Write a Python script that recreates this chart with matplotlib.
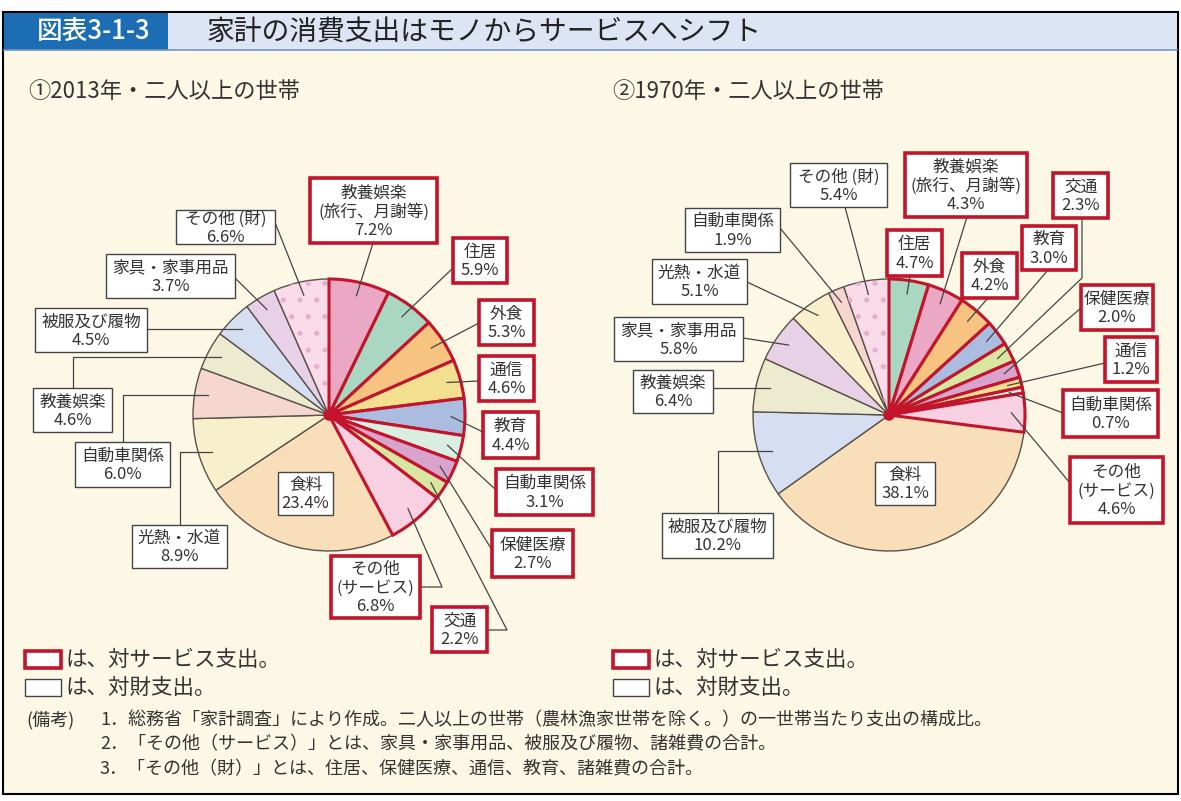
import numpy as np
import matplotlib.pyplot as plt
from matplotlib.patches import Rectangle, Circle, Wedge

plt.rcParams['font.family'] = ['Noto Sans CJK JP', 'DejaVu Sans']
plt.rcParams['hatch.linewidth'] = 1.3

# ---- data -------------------------------------------------------------
cats_2013 = ['教養娯楽\n(旅行、月謝等)', '住居', '外食', '通信', '教育', '自動車関係',
             '保健医療', '交通', 'その他\n(サービス)',
             '食料', '光熱・水道', '自動車関係', '教養娯楽', '被服及び履物',
             '家具・家事用品', 'その他 (財)']
vals_2013 = [7.2, 5.9, 5.3, 4.6, 4.4, 3.1, 2.7, 2.2, 6.8,
             23.4, 8.9, 6.0, 4.6, 4.5, 3.7, 6.6]
serv_2013 = [True] * 9 + [False] * 7

cats_1970 = ['住居', '教養娯楽\n(旅行、月謝等)', '外食', '教育', '交通', '保健医療',
             '通信', '自動車関係', 'その他\n(サービス)',
             '食料', '被服及び履物', '教養娯楽', '家具・家事用品', '光熱・水道',
             '自動車関係', 'その他 (財)']
vals_1970 = [4.7, 4.3, 4.2, 3.0, 2.3, 2.0, 1.2, 0.7, 4.6,
             38.1, 10.2, 6.4, 5.8, 5.1, 1.9, 5.4]
serv_1970 = [True] * 9 + [False] * 7

title_no = '図表3-1-3'
title = '家計の消費支出はモノからサービスへシフト'
sub_2013 = '①2013年・二人以上の世帯'
sub_1970 = '②1970年・二人以上の世帯'
leg_serv = 'は、対サービス支出。'
leg_good = 'は、対財支出。'
notes = ['1．総務省「家計調査」により作成。二人以上の世帯（農林漁家世帯を除く。）の一世帯当たり支出の構成比。',
         '2．「その他（サービス）」とは、家具・家事用品、被服及び履物、諸雑費の合計。',
         '3．「その他（財）」とは、住居、保健医療、通信、教育、諸雑費の合計。']

# ---- style ------------------------------------------------------------
RED = '#c2142b'
GREY = '#5a524a'
TXT = '#333333'
c_pink = '#eaa8c5'; c_green = '#a9d7c1'; c_orange = '#f6c480'; c_yellow = '#f2df90'
c_blue = '#aabde0'; c_mint = '#d9ede0'; c_mauve = '#d8a4cd'; c_lime = '#d7e7a2'
c_lpink = '#f7d1e1'; c_peach = '#f8deb9'; c_pyel = '#f8f0cd'; c_salmon = '#f6d7d0'
c_beige = '#ecebd0'; c_lblue = '#d6dff1'; c_lilac = '#e8d0e6'; c_dot = '#fadbe9'

cols_2013 = [c_pink, c_green, c_orange, c_yellow, c_blue, c_mint, c_mauve, c_lime, c_lpink,
             c_peach, c_pyel, c_salmon, c_beige, c_lblue, c_lilac, c_dot]
cols_1970 = [c_green, c_pink, c_orange, c_blue, c_lime, c_mauve, c_yellow, c_mint, c_lpink,
             c_peach, c_lblue, c_beige, c_lilac, c_pyel, c_salmon, c_dot]

# label boxes (x0, y0, x1, y1) in pixels from top-left, and leader path after the anchor
# (None = keep previous coordinate)
lay_2013 = [((310, 178, 437, 243), [(373, 243)]),
            ((453, 238, 507, 283), [(453, 268)]),
            ((479, 300, 534, 345), [(479, 323)]),
            ((479, 356, 534, 401), [(479, 381)]),
            ((483, 412, 538, 458), [(483, 432)]),
            ((496, 469, 593, 515), [(496, 490)]),
            ((492, 530, 573, 577), [(492, 550)]),
            ((432, 607, 487, 652), [(507, 630), (487, 630)]),
            ((331, 556, 420, 618), [(442, 587), (420, 587)]),
            ((278, 472, 333, 515), None),
            ((132, 525, 227, 568), [(180, None), (180, 525)]),
            ((75, 442, 170, 487), [(123, None), (123, 442)]),
            ((33, 388, 112, 432), [(73, None), (73, 388)]),
            ((35, 308, 147, 352), [(147, None)]),
            ((106, 254, 235, 298), [(235, 278)]),
            ((176, 210, 275, 244), [(276, 225)])]
lay_1970 = [((887, 230, 942, 276), [(910, 276)]),
            ((905, 153, 1027, 217), [(967, 217)]),
            ((962, 253, 1017, 298), [(988, 298)]),
            ((1022, 226, 1076, 270), [(1048, 270)]),
            ((1053, 173, 1108, 218), [(1082, 278), (1082, 218)]),
            ((1081, 285, 1153, 330), [(1081, 308)]),
            ((1105, 337, 1157, 382), [(1105, 363)]),
            ((1063, 390, 1158, 437), [(1063, 413)]),
            ((1070, 457, 1163, 523), [(1070, 483)]),
            ((875, 462, 935, 505), None),
            ((662, 513, 773, 558), [(718, None), (718, 513)]),
            ((633, 370, 713, 413), [(713, None)]),
            ((614, 317, 743, 361), [(743, 338)]),
            ((652, 259, 747, 304), [(747, 282)]),
            ((685, 208, 780, 252), [(780, 228)]),
            ((790, 163, 887, 207), [(845, 207)])]

W, H = 1181, 801
fig = plt.figure(figsize=(W / 100, H / 100), dpi=100)
fig.patch.set_facecolor('white')
ax = fig.add_axes([0, 0, 1, 1])


def draw_pie(vals, cats, serv, cols, lay, center, r):
    wedges, _ = ax.pie(vals, colors=cols, startangle=-90, counterclock=True,
                       center=center, radius=r, wedgeprops=dict(linewidth=1.0, edgecolor=GREY))
    for w, s in zip(wedges, serv):
        if s:
            w.set_edgecolor(RED)
            w.set_linewidth(2.2)
            w.set_zorder(2)
        else:
            w.set_zorder(1)
    # dotted pattern on その他（財）
    last = wedges[-1]
    ax.add_patch(Wedge(last.center, last.r, last.theta1, last.theta2, facecolor='none',
                       edgecolor='#e6b0cb', hatch='.', linewidth=0, zorder=1.5))
    ax.add_patch(Circle(center, 5, color=RED, zorder=6))

    for w, cat, v, s, (box, path) in zip(wedges, cats, vals, serv, lay):
        x0, y0, x1, y1 = box
        ec = RED if s else '#444444'
        ax.add_patch(Rectangle((x0, y0), x1 - x0, y1 - y0, facecolor='white', edgecolor=ec,
                               linewidth=2.6 if s else 1.0, zorder=4))
        ax.text((x0 + x1) / 2, (y0 + y1) / 2 + 1, f'{cat}\n{v}%', ha='center', va='center',
                multialignment='center', fontsize=12, color=TXT, linespacing=1.1, zorder=5)
        if path is None:
            continue
        th = np.deg2rad((w.theta1 + w.theta2) / 2)
        pts = [(center[0] + 0.9 * r * np.cos(th), center[1] + 0.9 * r * np.sin(th))]
        for px, py in path:
            pts.append((pts[-1][0] if px is None else px, pts[-1][1] if py is None else py))
        xs, ys = zip(*pts)
        ax.plot(xs, ys, color='#444444', lw=0.9, zorder=3)


# background, frame, title bar
ax.add_patch(Rectangle((3, 12), 1175, 782, facecolor='#fdf8e5', edgecolor='black', lw=1.5, zorder=0))
ax.add_patch(Rectangle((168, 13), 1009, 37, facecolor='#dde4f3', edgecolor='none', zorder=0.5))
ax.add_patch(Rectangle((4, 13), 164, 37, facecolor='#1d6db4', edgecolor='none', zorder=0.5))
ax.plot([4, 1177], [50, 50], color='#6d95c8', lw=1.2, zorder=0.6)
ax.text(94, 32, title_no, color='white', fontsize=18.5, fontweight='medium', ha='center', va='center')
ax.text(207, 32, title, color='#222222', fontsize=20, ha='left', va='center')

ax.text(28, 92, sub_2013, fontsize=16, color=TXT, ha='left', va='center')
ax.text(612, 92, sub_1970, fontsize=16, color=TXT, ha='left', va='center')

draw_pie(vals_2013, cats_2013, serv_2013, cols_2013, lay_2013, (329, 415), 136)
draw_pie(vals_1970, cats_1970, serv_1970, cols_1970, lay_1970, (889, 415), 136)

# legends
for lx in (25, 613):
    ax.add_patch(Rectangle((lx, 651), 36, 17, facecolor='white', edgecolor=RED, lw=2.6, zorder=4))
    ax.add_patch(Rectangle((lx, 679), 36, 17, facecolor='white', edgecolor='#444444', lw=1.0, zorder=4))
    ax.text(lx + 41, 660, leg_serv, fontsize=15.5, color=TXT, ha='left', va='center')
    ax.text(lx + 41, 688, leg_good, fontsize=15.5, color=TXT, ha='left', va='center')

# notes
ax.text(26, 720, '(備考)', fontsize=13, color=TXT, ha='left', va='center')
for i, n in enumerate(notes):
    ax.text(100, 720 + 24.5 * i, n, fontsize=13, color=TXT, ha='left', va='center')

ax.set_xlim(0, W)
ax.set_ylim(H, 0)
ax.set_aspect('auto')
ax.set_axis_off()
fig.savefig('out.png', dpi=100, facecolor='white')
